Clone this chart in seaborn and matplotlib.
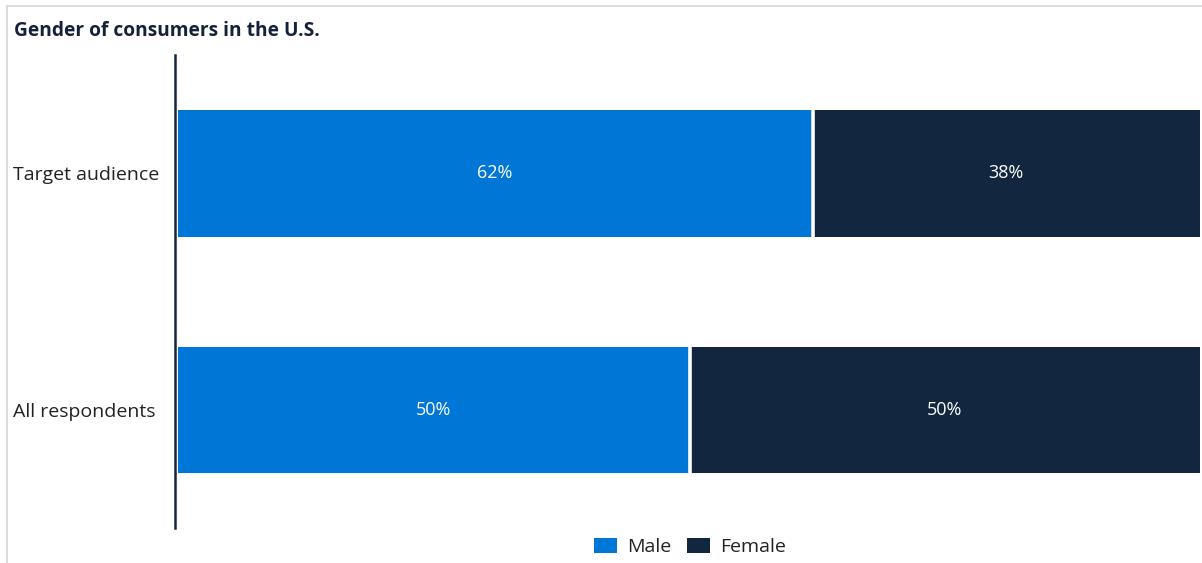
import matplotlib
matplotlib.use("Agg")
import matplotlib.pyplot as plt
from matplotlib.lines import Line2D
from matplotlib.patches import Patch
import seaborn as sns
import pandas as pd

# Survey shares by audience group
groups = ["Target audience", "All respondents"]
male = [62, 50]
female = [38, 50]
series_names = ["Male", "Female"]

MALE_COLOR = "#0077d6"
FEMALE_COLOR = "#12263f"
BAR_WIDTH = 0.534

sns.set_theme(style="white")
plt.rcParams["font.family"] = ["Open Sans", "DejaVu Sans"]

df = pd.DataFrame({"group": groups, "male": male, "female": female})
df["total"] = df["male"] + df["female"]

fig = plt.figure(figsize=(12.02, 5.63), dpi=100)
ax = fig.add_axes([0.1456, 0.062, 0.8524, 0.840])

# Stacked bars: full length in the female colour, male segment over it
sns.barplot(data=df, y="group", x="total", color=FEMALE_COLOR, orient="h",
            width=BAR_WIDTH, saturation=1, linewidth=0, ax=ax)
sns.barplot(data=df, y="group", x="male", color=MALE_COLOR, orient="h",
            width=BAR_WIDTH, saturation=1, linewidth=0, ax=ax)

# White separator between the two segments
for i, m in enumerate(male):
    ax.vlines(m + 0.15, i - BAR_WIDTH / 2, i + BAR_WIDTH / 2, color="white", lw=2.6)

# Value labels centred in each segment
for i, (m, f) in enumerate(zip(male, female)):
    ax.text(m / 2, i, f"{m}%", ha="center", va="center", color="white", fontsize=13)
    ax.text(m + f / 2, i, f"{f}%", ha="center", va="center", color="white", fontsize=13)

ax.set_xlim(-0.3, 100)
ax.set_ylim(1.5, -0.5)
ax.set_xlabel("")
ax.set_ylabel("")
ax.set_xticks([])
# Category labels are left-aligned at the panel's inner margin
ax.tick_params(axis="y", length=0, pad=117, labelsize=14, labelcolor="#222222")
for lbl in ax.get_yticklabels():
    lbl.set_horizontalalignment("left")
for side in ["top", "right", "bottom"]:
    ax.spines[side].set_visible(False)
ax.spines["left"].set_color(FEMALE_COLOR)
ax.spines["left"].set_linewidth(1.8)

fig.text(0.0116, 0.945, "Gender of consumers in the U.S.", fontsize=13.8,
         fontweight="bold", color="#14213a", ha="left", va="center")

handles = [Patch(facecolor=MALE_COLOR, edgecolor="none"),
           Patch(facecolor=FEMALE_COLOR, edgecolor="none")]
fig.legend(handles, series_names, loc="center", bbox_to_anchor=(0.574, 0.028),
           ncol=2, frameon=False, fontsize=14, handlelength=1.2, handleheight=0.75,
           handletextpad=0.5, columnspacing=0.8, labelcolor="#222222")

# Light panel frame along the top and left edges
fig.add_artist(Line2D([0.0058, 1.0], [0.989, 0.989], color="#d6d6d6", lw=1.2,
                      transform=fig.transFigure))
fig.add_artist(Line2D([0.0058, 0.0058], [0.0, 0.989], color="#d6d6d6", lw=1.2,
                      transform=fig.transFigure))

fig.savefig("out.png", dpi=100)
